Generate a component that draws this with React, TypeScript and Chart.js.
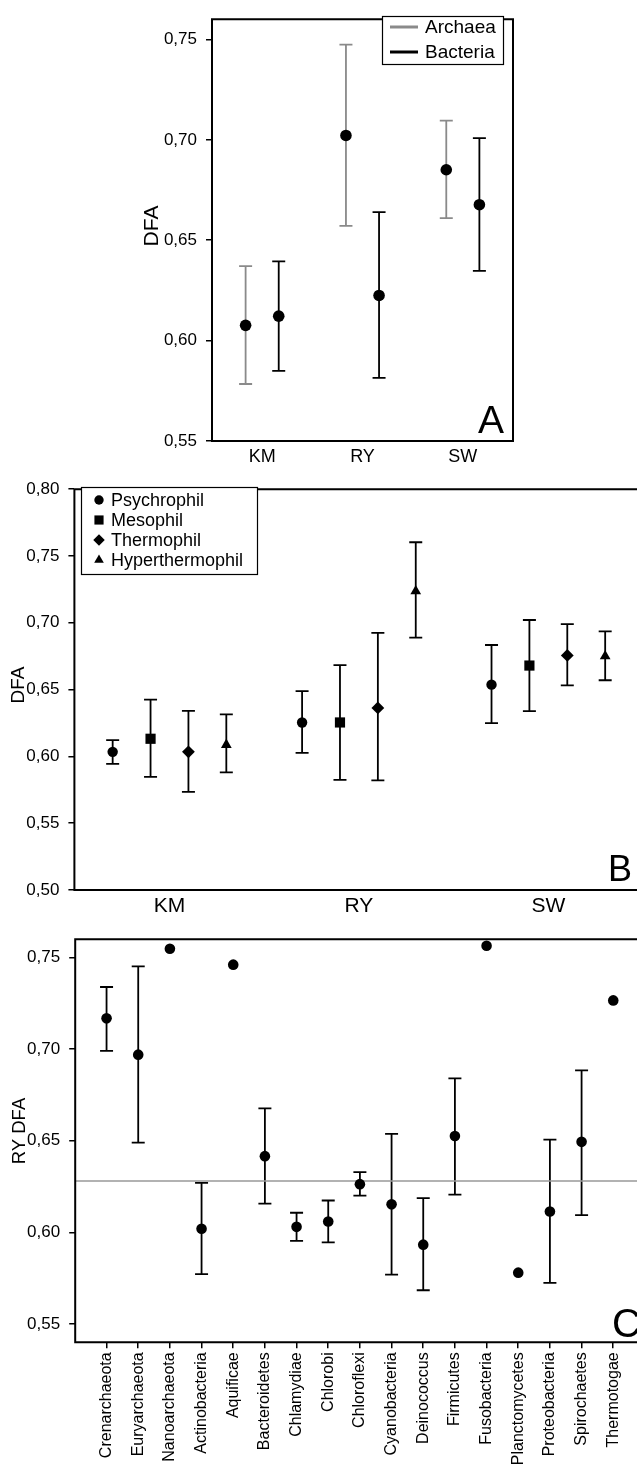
import React, { useEffect, useRef } from 'react';
import { Chart, registerables } from 'chart.js';

Chart.register(...registerables);

const FONT = '"Liberation Sans", Arial, Helvetica, sans-serif';

// ---------- Panel A ----------
const SITES = ['KM', 'RY', 'SW'];
const ARCHAEA_MEAN = [0.6076, 0.7022, 0.6851];
const ARCHAEA_LOW = [0.5784, 0.6572, 0.661];
const ARCHAEA_HIGH = [0.6371, 0.7474, 0.7096];
const BACTERIA_MEAN = [0.6122, 0.6225, 0.6677];
const BACTERIA_LOW = [0.5849, 0.5814, 0.6347];
const BACTERIA_HIGH = [0.6395, 0.664, 0.7009];
const A_Y_TICKS = [0.55, 0.6, 0.65, 0.7, 0.75];
const A_LEGEND = ['Archaea', 'Bacteria'];

// ---------- Panel B ----------
const TEMP_CLASSES = ['Psychrophil', 'Mesophil', 'Thermophil', 'Hyperthermophil'];
const PSYCHRO_MEAN = [0.6034, 0.6254, 0.6537];
const PSYCHRO_LOW = [0.5944, 0.6026, 0.6249];
const PSYCHRO_HIGH = [0.6122, 0.6488, 0.6834];
const MESO_MEAN = [0.6132, 0.6254, 0.668];
const MESO_LOW = [0.5847, 0.5824, 0.6339];
const MESO_HIGH = [0.6425, 0.6683, 0.7021];
const THERMO_MEAN = [0.6034, 0.6363, 0.6756];
const THERMO_LOW = [0.5734, 0.582, 0.6532];
const THERMO_HIGH = [0.6341, 0.6924, 0.699];
const HYPER_MEAN = [0.6087, 0.7237, 0.675];
const HYPER_LOW = [0.588, 0.6889, 0.657];
const HYPER_HIGH = [0.6315, 0.7603, 0.6936];
const B_Y_TICKS = [0.5, 0.55, 0.6, 0.65, 0.7, 0.75, 0.8];

// ---------- Panel C ----------
const PHYLA = [
  'Crenarchaeota', 'Euryarchaeota', 'Nanoarchaeota', 'Actinobacteria', 'Aquificae',
  'Bacteroidetes', 'Chlamydiae', 'Chlorobi', 'Chloroflexi', 'Cyanobacteria',
  'Deinococcus', 'Firmicutes', 'Fusobacteria', 'Planctomycetes', 'Proteobacteria',
  'Spirochaetes', 'Thermotogae',
];
const RY_MEAN = [0.7168, 0.697, 0.7548, 0.602, 0.7461, 0.6416, 0.603, 0.6059, 0.6263, 0.6153, 0.5933, 0.6526, 0.7564, 0.578, 0.6114, 0.6494, 0.7266];
const RY_LOW = [0.6991, 0.649, null, 0.5772, null, 0.6157, 0.5954, 0.5945, 0.6201, 0.5769, 0.5684, 0.6206, null, null, 0.5724, 0.6094, null];
const RY_HIGH = [0.7339, 0.7452, null, 0.627, null, 0.6677, 0.6107, 0.6174, 0.6329, 0.6538, 0.6187, 0.684, null, null, 0.6506, 0.6884, null];
const RY_OVERALL = 0.628;
const C_Y_TICKS = [0.55, 0.6, 0.65, 0.7, 0.75];

const fmt = (v: number) => Number(v).toFixed(2).replace('.', ',');

function drawMarker(ctx: CanvasRenderingContext2D, style: string, x: number, y: number, r: number) {
  ctx.beginPath();
  if (style === 'circle') {
    ctx.arc(x, y, r, 0, Math.PI * 2);
  } else if (style === 'rect') {
    const h = r * Math.SQRT1_2;
    ctx.rect(x - h, y - h, 2 * h, 2 * h);
  } else if (style === 'rectRot') {
    ctx.moveTo(x, y - r);
    ctx.lineTo(x + r, y);
    ctx.lineTo(x, y + r);
    ctx.lineTo(x - r, y);
    ctx.closePath();
  } else {
    ctx.moveTo(x, y - r);
    ctx.lineTo(x + r * 0.866, y + r / 2);
    ctx.lineTo(x - r * 0.866, y + r / 2);
    ctx.closePath();
  }
  ctx.fillStyle = '#000';
  ctx.fill();
}

const errorBarPlugin = {
  id: 'errorBars',
  beforeDatasetsDraw(chart: any) {
    const { ctx } = chart;
    const x = chart.scales.x;
    const y = chart.scales.y;
    chart.data.datasets.forEach((ds: any) => {
      if (!ds.errLow) return;
      ctx.save();
      ctx.strokeStyle = ds.errColor || '#000';
      ctx.lineWidth = 1.8;
      const cap = 6.5;
      ds.data.forEach((p: any, i: number) => {
        const lo = ds.errLow[i];
        const hi = ds.errHigh[i];
        if (lo == null || hi == null) return;
        const px = x.getPixelForValue(p.x);
        const yl = y.getPixelForValue(lo);
        const yh = y.getPixelForValue(hi);
        ctx.beginPath();
        ctx.moveTo(px, yl);
        ctx.lineTo(px, yh);
        ctx.moveTo(px - cap, yl);
        ctx.lineTo(px + cap, yl);
        ctx.moveTo(px - cap, yh);
        ctx.lineTo(px + cap, yh);
        ctx.stroke();
      });
      ctx.restore();
    });
  },
};

function yScale(min: number, max: number, ticks: number[], width: number) {
  return {
    type: 'linear',
    min,
    max,
    afterBuildTicks: (s: any) => {
      s.ticks = ticks.map((v) => ({ value: v }));
    },
    afterFit: (s: any) => {
      s.width = width;
    },
    ticks: {
      callback: (v: any) => fmt(v),
      font: { family: FONT, size: 17 },
      color: '#000',
      padding: 9,
    },
    grid: {
      display: true,
      drawOnChartArea: false,
      drawTicks: true,
      tickLength: 6,
      color: '#000',
      lineWidth: 1.5,
    },
    border: { display: false },
  };
}

function baseOptions(padding: any) {
  return {
    responsive: false,
    animation: false,
    events: [],
    layout: { autoPadding: false, padding },
    plugins: { legend: { display: false }, tooltip: { enabled: false } },
  };
}

function drawLines(ctx: CanvasRenderingContext2D, area: any, sides: string[]) {
  ctx.save();
  ctx.strokeStyle = '#000';
  ctx.lineWidth = 2;
  ctx.beginPath();
  const { left, right, top, bottom } = area;
  if (sides.includes('top')) { ctx.moveTo(left, top); ctx.lineTo(right, top); }
  if (sides.includes('bottom')) { ctx.moveTo(left - 1, bottom); ctx.lineTo(right, bottom); }
  if (sides.includes('left')) { ctx.moveTo(left, top - 1); ctx.lineTo(left, bottom + 1); }
  if (sides.includes('right')) { ctx.moveTo(right, top - 1); ctx.lineTo(right, bottom + 1); }
  ctx.stroke();
  ctx.restore();
}

function drawRotatedText(ctx: CanvasRenderingContext2D, text: string, x: number, y: number, size: number) {
  ctx.save();
  ctx.translate(x, y);
  ctx.rotate(-Math.PI / 2);
  ctx.font = `${size}px ${FONT}`;
  ctx.fillStyle = '#000';
  ctx.textAlign = 'center';
  ctx.textBaseline = 'middle';
  ctx.fillText(text, 0, 0);
  ctx.restore();
}

function drawLetter(ctx: CanvasRenderingContext2D, text: string, x: number, y: number, size: number) {
  ctx.save();
  ctx.font = `${size}px ${FONT}`;
  ctx.fillStyle = '#000';
  ctx.textAlign = 'right';
  ctx.textBaseline = 'alphabetic';
  ctx.fillText(text, x, y);
  ctx.restore();
}

function makeA(canvas: HTMLCanvasElement) {
  const decor = {
    id: 'decorA',
    afterDraw(chart: any) {
      const { ctx, chartArea } = chart;
      drawLines(ctx, chartArea, ['top', 'bottom', 'left', 'right']);
      drawRotatedText(ctx, 'DFA', 152.5, 226, 21);
      drawLetter(ctx, 'A', 504, 433, 39);
      // legend
      ctx.save();
      ctx.fillStyle = '#fff';
      ctx.fillRect(382, 16, 121, 48);
      ctx.strokeStyle = '#000';
      ctx.lineWidth = 1.2;
      ctx.strokeRect(382.5, 16.5, 121, 48);
      const colors = ['#8a8a8a', '#000'];
      A_LEGEND.forEach((label, i) => {
        const yy = 27 + i * 25;
        ctx.strokeStyle = colors[i];
        ctx.lineWidth = 3;
        ctx.beginPath();
        ctx.moveTo(390, yy);
        ctx.lineTo(418, yy);
        ctx.stroke();
        ctx.fillStyle = '#000';
        ctx.font = `19px ${FONT}`;
        ctx.textAlign = 'left';
        ctx.textBaseline = 'middle';
        ctx.fillText(label, 425, yy + 1);
      });
      ctx.restore();
    },
  };
  return new Chart(canvas, {
    type: 'scatter',
    data: {
      datasets: [
        {
          label: 'Archaea',
          data: ARCHAEA_MEAN.map((v, i) => ({ x: i + 1 - 0.165, y: v })),
          errLow: ARCHAEA_LOW,
          errHigh: ARCHAEA_HIGH,
          errColor: '#8a8a8a',
          pointRadius: 5.8,
          pointStyle: 'circle',
          backgroundColor: '#000',
          borderColor: '#000',
          borderWidth: 0,
          clip: false,
        } as any,
        {
          label: 'Bacteria',
          data: BACTERIA_MEAN.map((v, i) => ({ x: i + 1 + 0.165, y: v })),
          errLow: BACTERIA_LOW,
          errHigh: BACTERIA_HIGH,
          errColor: '#000',
          pointRadius: 5.8,
          pointStyle: 'circle',
          backgroundColor: '#000',
          borderColor: '#000',
          borderWidth: 0,
          clip: false,
        } as any,
      ],
    },
    options: {
      ...baseOptions({ top: 6, right: 124, left: 0, bottom: 0 }),
      scales: {
        x: {
          type: 'linear',
          min: 0.5,
          max: 3.5,
          afterBuildTicks: (s: any) => {
            s.ticks = SITES.map((_, i) => ({ value: i + 1 }));
          },
          afterFit: (s: any) => {
            s.height = 29;
          },
          ticks: {
            callback: (v: any) => SITES[Math.round(v) - 1],
            font: { family: FONT, size: 18 },
            color: '#000',
            padding: 5,
            maxRotation: 0,
            autoSkip: false,
          },
          grid: { display: false, drawTicks: false },
          border: { display: false },
        },
        y: yScale(0.55, 0.7601, A_Y_TICKS, 212),
      },
    } as any,
    plugins: [errorBarPlugin, decor],
  });
}

function makeB(canvas: HTMLCanvasElement) {
  const styles = ['circle', 'rect', 'rectRot', 'triangle'];
  const radii = [5.2, 7.2, 6.4, 6.2];
  const means = [PSYCHRO_MEAN, MESO_MEAN, THERMO_MEAN, HYPER_MEAN];
  const lows = [PSYCHRO_LOW, MESO_LOW, THERMO_LOW, HYPER_LOW];
  const highs = [PSYCHRO_HIGH, MESO_HIGH, THERMO_HIGH, HYPER_HIGH];
  const decor = {
    id: 'decorB',
    afterDraw(chart: any) {
      const { ctx, chartArea } = chart;
      drawLines(ctx, chartArea, ['top', 'bottom', 'left']);
      drawRotatedText(ctx, 'DFA', 19, 215, 19);
      drawLetter(ctx, 'B', 632, 411, 36);
      ctx.save();
      ctx.fillStyle = '#fff';
      ctx.fillRect(81, 17, 176, 87);
      ctx.strokeStyle = '#000';
      ctx.lineWidth = 1.2;
      ctx.strokeRect(81.5, 17.5, 176, 87);
      TEMP_CLASSES.forEach((label, i) => {
        const yy = 30 + i * 20;
        drawMarker(ctx, styles[i], 99, yy, radii[i] * 0.9);
        ctx.fillStyle = '#000';
        ctx.font = `18px ${FONT}`;
        ctx.textAlign = 'left';
        ctx.textBaseline = 'middle';
        ctx.fillText(label, 111, yy + 1);
      });
      ctx.restore();
    },
  };
  return new Chart(canvas, {
    type: 'scatter',
    data: {
      datasets: TEMP_CLASSES.map((name, t) => ({
        label: name,
        data: means[t].map((v, s) => ({ x: s * 5 + t, y: v })),
        errLow: lows[t],
        errHigh: highs[t],
        errColor: '#000',
        pointRadius: radii[t],
        pointStyle: styles[t],
        backgroundColor: '#000',
        borderColor: '#000',
        borderWidth: 0,
        clip: false,
      })) as any,
    },
    options: {
      ...baseOptions({ top: 9.6, right: 0, left: 0, bottom: 0 }),
      scales: {
        x: {
          type: 'linear',
          min: -1.01,
          max: 13.84,
          afterBuildTicks: (s: any) => {
            s.ticks = SITES.map((_, i) => ({ value: i * 5 + 1.5 }));
          },
          afterFit: (s: any) => {
            s.height = 30;
          },
          ticks: {
            callback: (v: any) => SITES[Math.round((v - 1.5) / 5)],
            font: { family: FONT, size: 21 },
            color: '#000',
            padding: 4,
            maxRotation: 0,
            autoSkip: false,
          },
          grid: { display: false, drawTicks: false },
          border: { display: false },
        },
        y: yScale(0.5, 0.8, B_Y_TICKS, 74.4),
      },
    } as any,
    plugins: [errorBarPlugin, decor],
  });
}

function makeC(canvas: HTMLCanvasElement) {
  const decor = {
    id: 'decorC',
    beforeDatasetsDraw(chart: any) {
      const { ctx, chartArea } = chart;
      const yy = chart.scales.y.getPixelForValue(RY_OVERALL);
      ctx.save();
      ctx.strokeStyle = '#999';
      ctx.lineWidth = 1.5;
      ctx.beginPath();
      ctx.moveTo(chartArea.left, yy);
      ctx.lineTo(chartArea.right, yy);
      ctx.stroke();
      ctx.restore();
    },
    afterDraw(chart: any) {
      const { ctx, chartArea } = chart;
      drawLines(ctx, chartArea, ['top', 'bottom', 'left']);
      drawRotatedText(ctx, 'RY DFA', 20, 211, 18.5);
      drawLetter(ctx, 'C', 641, 417, 40);
    },
  };
  return new Chart(canvas, {
    type: 'scatter',
    data: {
      datasets: [
        {
          label: 'RY DFA',
          data: RY_MEAN.map((v, i) => ({ x: i, y: v })),
          errLow: RY_LOW,
          errHigh: RY_HIGH,
          errColor: '#000',
          pointRadius: 5.3,
          pointStyle: 'circle',
          backgroundColor: '#000',
          borderColor: '#000',
          borderWidth: 0,
          clip: false,
        } as any,
      ],
    },
    options: {
      ...baseOptions({ top: 8.7, right: 0, left: 0, bottom: 0 }),
      scales: {
        x: {
          type: 'linear',
          min: -0.99,
          max: 16.75,
          afterBuildTicks: (s: any) => {
            s.ticks = PHYLA.map((_, i) => ({ value: i }));
          },
          afterFit: (s: any) => {
            s.height = 123.7;
          },
          ticks: {
            callback: (v: any) => PHYLA[Math.round(v)],
            font: { family: FONT, size: 16 },
            color: '#000',
            padding: 4,
            minRotation: 90,
            maxRotation: 90,
            autoSkip: false,
          },
          grid: {
            display: true,
            drawOnChartArea: false,
            drawTicks: true,
            tickLength: 6,
            color: '#000',
            lineWidth: 1.5,
          },
          border: { display: false },
        },
        y: yScale(0.54, 0.76, C_Y_TICKS, 75.2),
      },
    } as any,
    plugins: [errorBarPlugin, decor],
  });
}

export default function App() {
  const refA = useRef<HTMLCanvasElement>(null);
  const refB = useRef<HTMLCanvasElement>(null);
  const refC = useRef<HTMLCanvasElement>(null);

  useEffect(() => {
    document.body.style.margin = '0';
    const charts = [makeA(refA.current!), makeB(refB.current!), makeC(refC.current!)];
    return () => charts.forEach((c) => c.destroy());
  }, []);

  return (
    <div style={{ width: 637, height: 1466, background: '#fff', overflow: 'hidden' }}>
      <canvas ref={refA} width={637} height={470} style={{ display: 'block' }} />
      <canvas ref={refB} width={637} height={450} style={{ display: 'block' }} />
      <canvas ref={refC} width={637} height={546} style={{ display: 'block' }} />
    </div>
  );
}
